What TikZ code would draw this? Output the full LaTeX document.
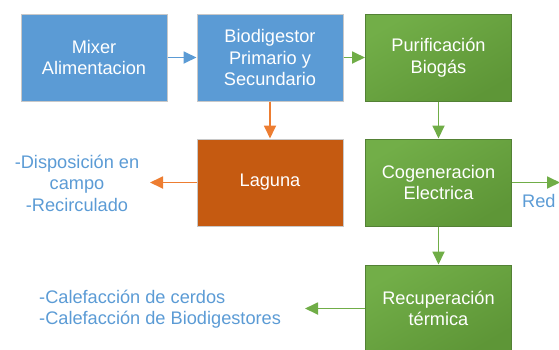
\documentclass[tikz,border=0pt]{standalone}
\usepackage{fontspec}
\setmainfont{Liberation Sans}
\usetikzlibrary{arrows.meta}
\definecolor{bluebox}{HTML}{5B9BD5}
\definecolor{blueline}{HTML}{5B9BD5}
\definecolor{grayborder}{HTML}{C8C8C8}
\definecolor{greenA}{HTML}{72AE48}
\definecolor{greenB}{HTML}{5E9637}
\definecolor{greenborder}{HTML}{538135}
\definecolor{greenline}{HTML}{70AD47}
\definecolor{orangebox}{HTML}{C55A11}
\definecolor{orangeline}{HTML}{ED7D31}
\definecolor{bluetext}{HTML}{5B9BD5}
\tikzset{
  box/.style={minimum width=146pt, minimum height=87pt, inner sep=0pt, align=center,
    text=white, font=\fontsize{18.2}{21.5}\selectfont, line width=1pt},
  bluebx/.style={box, fill=bluebox, draw=grayborder},
  greenbx/.style={box, top color=greenA, bottom color=greenB, shading angle=30, draw=greenborder},
  orangebx/.style={box, fill=orangebox, draw=grayborder},
  conn/.style={line width=1.8pt, -{Triangle[width=12pt,length=13pt]}},
  lbl/.style={text=bluetext, font=\fontsize{18.2}{21.5}\selectfont, inner sep=0pt},
}
\begin{document}
\begin{tikzpicture}[x=1pt,y=-1pt]
\useasboundingbox (0,0) rectangle (559,349);
\clip (0,0) rectangle (559,349);
\node[bluebx] (mix) at (94,57.5) {Mixer\\Alimentacion};
\node[bluebx] (bio) at (270,57.5) {Biodigestor\\Primario y\\Secundario};
\node[greenbx] (pur) at (438.5,57.5) {Purificación\\Biogás};
\node[orangebx] (lag) at (270,182.5) {Laguna};
\node[greenbx] (cog) at (438.5,182.5) {Cogeneracion\\Electrica};
\node[greenbx] (rec) at (438.5,308.5) {Recuperación\\térmica};
\node[lbl, align=center] (disp) at (77,183) {-Disposición en\\campo\\-Recirculado};
\node[lbl, align=left, anchor=west] (cal) at (39,309) {-Calefacción de cerdos\\-Calefacción de Biodigestores};
\node[lbl, anchor=west] (red) at (522,201) {Red};
\coordinate (dispend) at (150,182.5);
\coordinate (recend) at (305,308.5);
\coordinate (redend) at (560,182.5);
\draw[conn, draw=blueline, fill=blueline] (mix.east) -- (bio.west);
\draw[conn, draw=greenline, fill=greenline] (bio.east) -- (pur.west);
\draw[conn, draw=orangeline, fill=orangeline] (bio.south) -- (lag.north);
\draw[conn, draw=greenline, fill=greenline] (pur.south) -- (cog.north);
\draw[conn, draw=greenline, fill=greenline] (cog.south) -- (rec.north);
\draw[conn, draw=orangeline, fill=orangeline] (lag.west) -- (dispend);
\draw[conn, draw=greenline, fill=greenline] (rec.west) -- (recend);
\draw[conn, draw=greenline, fill=greenline] (cog.east) -- (redend);
\end{tikzpicture}
\end{document}
